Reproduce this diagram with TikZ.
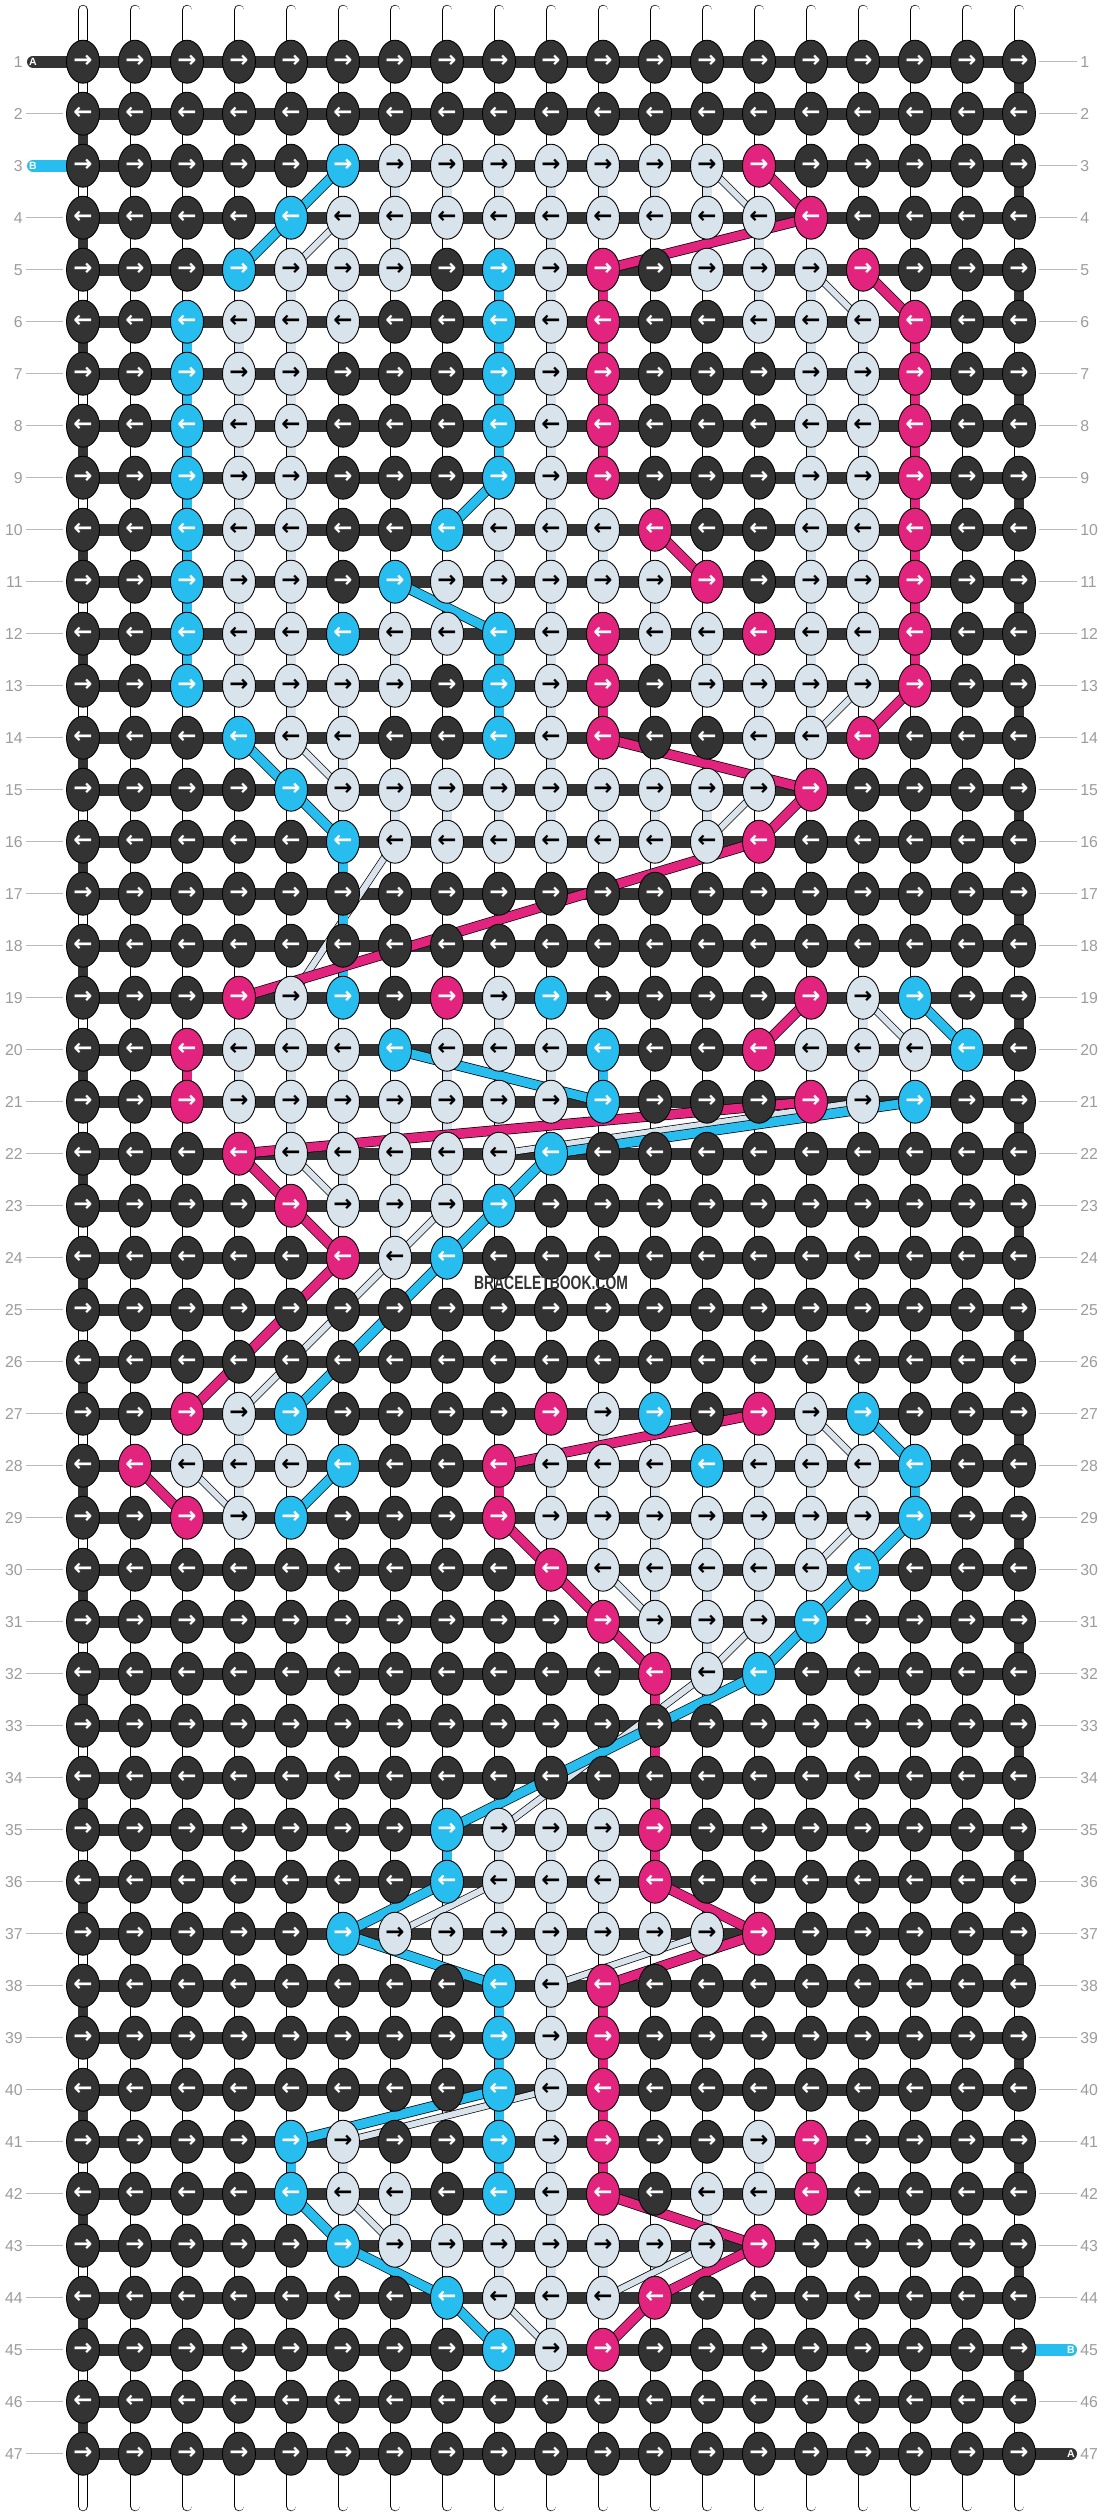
\documentclass[tikz,border=0pt]{standalone}
\usepackage{fontspec}
\usetikzlibrary{shapes.geometric}
\newfontfamily\arrowfont{DejaVu Sans}
\newfontfamily\labelfont{Liberation Sans}
\newfontfamily\markfont{Liberation Sans Bold}[FakeStretch=0.72]

\definecolor{cD}{HTML}{333333}
\definecolor{cB}{HTML}{27BDEE}
\definecolor{cP}{HTML}{E2247F}
\definecolor{cL}{HTML}{D9E3EC}
\colorlet{aD}{white}
\colorlet{aB}{white}
\colorlet{aP}{white}
\colorlet{aL}{black}
\definecolor{rowgray}{HTML}{9C9C9C}

\pgfdeclarelayer{background}
\pgfdeclarelayer{strings}
\pgfdeclarelayer{bars}
\pgfdeclarelayer{threads}
\pgfsetlayers{background,strings,bars,threads,main}

\tikzset{
  knot/.style={ellipse, draw=black, line width=0.5pt, fill=c#1, text=a#1,
    minimum width=0.66cm, minimum height=0.86cm, inner sep=0pt,
    font=\arrowfont\bfseries\fontsize{13}{13}\selectfont},
  vstring/.style={draw=black, line width=0.4pt, double=white, double distance=0.18cm, line cap=round},
  thr/.style={draw=black, line width=0.4pt, double=c#1, double distance=0.18cm},
  lthr/.style={draw=black, line width=0.4pt, double=cL, double distance=0.12cm},
  hbar/.style={draw=cD, line width=0.24cm},
  edgeturn/.style={draw=cD, line width=0.2cm},
  tailthr/.style={draw=#1, line width=0.24cm, line cap=round},
  taillabel/.style={text=white, inner sep=0pt, font=\labelfont\bfseries\fontsize{6}{6}\selectfont},
  rowlabel/.style={text=rowgray, inner sep=0pt, font=\labelfont\fontsize{9}{9}\selectfont},
  rowtick/.style={draw=rowgray!70, line width=0.6pt, shorten <=0.06cm, shorten >=0.06cm},
}

\begin{document}
\begin{tikzpicture}[x=0.02cm, y=-0.02cm]
\useasboundingbox (0,0) rectangle (1104,2516);
\begin{pgfonlayer}{background}
  \fill[white] (0,0) rectangle (1104,2516);
\end{pgfonlayer}

\foreach \r in {1,...,47}{\foreach \c in {1,...,19}{\expandafter\xdef\csname kc-\r-\c\endcsname{D}}}
\foreach \r/\cols in {
  3/{D,D,D,D,D,B,L,L,L,L,L,L,L,P,D,D,D,D,D},
  4/{D,D,D,D,B,L,L,L,L,L,L,L,L,L,P,D,D,D,D},
  5/{D,D,D,B,L,L,L,D,B,L,P,D,L,L,L,P,D,D,D},
  6/{D,D,B,L,L,L,D,D,B,L,P,D,D,L,L,L,P,D,D},
  7/{D,D,B,L,L,D,D,D,B,L,P,D,D,D,L,L,P,D,D},
  8/{D,D,B,L,L,D,D,D,B,L,P,D,D,D,L,L,P,D,D},
  9/{D,D,B,L,L,D,D,D,B,L,P,D,D,D,L,L,P,D,D},
  10/{D,D,B,L,L,D,D,B,L,L,L,P,D,D,L,L,P,D,D},
  11/{D,D,B,L,L,D,B,L,L,L,L,L,P,D,L,L,P,D,D},
  12/{D,D,B,L,L,B,L,L,B,L,P,L,L,P,L,L,P,D,D},
  13/{D,D,B,L,L,L,L,D,B,L,P,D,L,L,L,L,P,D,D},
  14/{D,D,D,B,L,L,D,D,B,L,P,D,D,L,L,P,D,D,D},
  15/{D,D,D,D,B,L,L,L,L,L,L,L,L,L,P,D,D,D,D},
  16/{D,D,D,D,D,B,L,L,L,L,L,L,L,P,D,D,D,D,D},
  19/{D,D,D,P,L,B,D,P,L,B,D,D,D,D,P,L,B,D,D},
  20/{D,D,P,L,L,L,B,L,L,L,B,D,D,P,L,L,L,B,D},
  21/{D,D,P,L,L,L,L,L,L,L,B,D,D,D,P,L,B,D,D},
  22/{D,D,D,P,L,L,L,L,L,B,D,D,D,D,D,D,D,D,D},
  23/{D,D,D,D,P,L,L,L,B,D,D,D,D,D,D,D,D,D,D},
  24/{D,D,D,D,D,P,L,B,D,D,D,D,D,D,D,D,D,D,D},
  27/{D,D,P,L,B,D,D,D,D,P,L,B,D,P,L,B,D,D,D},
  28/{D,P,L,L,L,B,D,D,P,L,L,L,B,L,L,L,B,D,D},
  29/{D,D,P,L,B,D,D,D,P,L,L,L,L,L,L,L,B,D,D},
  30/{D,D,D,D,D,D,D,D,D,P,L,L,L,L,L,B,D,D,D},
  31/{D,D,D,D,D,D,D,D,D,D,P,L,L,L,B,D,D,D,D},
  32/{D,D,D,D,D,D,D,D,D,D,D,P,L,B,D,D,D,D,D},
  35/{D,D,D,D,D,D,D,B,L,L,L,P,D,D,D,D,D,D,D},
  36/{D,D,D,D,D,D,D,B,L,L,L,P,D,D,D,D,D,D,D},
  37/{D,D,D,D,D,B,L,L,L,L,L,L,L,P,D,D,D,D,D},
  38/{D,D,D,D,D,D,D,D,B,L,P,D,D,D,D,D,D,D,D},
  39/{D,D,D,D,D,D,D,D,B,L,P,D,D,D,D,D,D,D,D},
  40/{D,D,D,D,D,D,D,D,B,L,P,D,D,D,D,D,D,D,D},
  41/{D,D,D,D,B,L,D,D,B,L,P,D,D,L,P,D,D,D,D},
  42/{D,D,D,D,B,L,L,D,B,L,P,D,L,L,P,D,D,D,D},
  43/{D,D,D,D,D,B,L,L,L,L,L,L,L,P,D,D,D,D,D},
  44/{D,D,D,D,D,D,D,B,L,L,L,P,D,D,D,D,D,D,D},
  45/{D,D,D,D,D,D,D,D,B,L,P,D,D,D,D,D,D,D,D}}{
  \foreach \k [count=\c] in \cols {\expandafter\xdef\csname kc-\r-\c\endcsname{\k}}
}

\foreach \r in {1,...,47}{
  \foreach \c in {1,...,19}{
    \edef\k{\csname kc-\r-\c\endcsname}
    \node[knot=\k] (k-\r-\c) at ({83+52*(\c-1)},{61.7+52*(\r-1)}) {\ifodd\r →\else ←\fi};
  }
}

\begin{pgfonlayer}{strings}
\foreach \c in {1,...,19}{
  \coordinate (top-\c) at ({83+52*(\c-1)},10);
  \coordinate (bot-\c) at ({83+52*(\c-1)},2506);
  \draw[vstring] (top-\c) -- (bot-\c);
}
\end{pgfonlayer}

\begin{pgfonlayer}{bars}
\foreach \r in {1,...,47}
  \draw[hbar] (k-\r-1.center) -- (k-\r-19.center);
\foreach \r in {1,3,...,45}{
  \pgfmathtruncatemacro\rn{\r+1}
  \draw[edgeturn] (k-\r-19.center) -- (k-\rn-19.center);
}
\foreach \r in {2,4,...,46}{
  \pgfmathtruncatemacro\rn{\r+1}
  \draw[edgeturn] (k-\r-1.center) -- (k-\rn-1.center);
}
\coordinate (tail-a) at (33,61.7);
\coordinate (tail-b) at (33,165.7);
\coordinate (end-b) at (1071,2349.7);
\coordinate (end-a) at (1071,2453.7);
\draw[tailthr=cD] (tail-a) -- (k-1-1.center);
\draw[tailthr=cB] (tail-b) -- (k-3-1.center);
\draw[tailthr=cB] (k-45-19.center) -- (end-b);
\draw[tailthr=cD] (k-47-19.center) -- (end-a);
\end{pgfonlayer}
\node[taillabel] (tl-a) at (tail-a) {A};
\node[taillabel] (tl-b) at (tail-b) {B};
\node[taillabel] (el-b) at (end-b) {B};
\node[taillabel] (el-a) at (end-a) {A};

\begin{pgfonlayer}{threads}
\foreach \r in {1,...,46}{
  \pgfmathtruncatemacro\rn{\r+1}
  \foreach \c in {1,...,19}{
    \edef\ka{\csname kc-\r-\c\endcsname}
    \edef\kb{\csname kc-\rn-\c\endcsname}
    \ifx\ka\kb\if D\ka\else\draw[thr=\ka] (k-\r-\c.center) -- (k-\rn-\c.center);\fi\fi
  }
}
\foreach \a/\b in {3-13/4-14, 4-6/5-5, 5-15/6-16, 13-16/14-15, 14-5/15-6, 15-14/16-13,
    16-7/19-5, 19-16/20-17, 21-16/22-9, 22-5/23-6, 23-8/24-7, 24-7/27-4, 27-15/28-16,
    28-3/29-4, 29-16/30-15, 30-11/31-12, 31-14/32-13, 32-13/35-9, 36-9/37-7, 37-13/38-10,
    40-10/41-6, 42-6/43-7, 43-13/44-11, 44-9/45-10}
  \draw[lthr] (k-\a.center) -- (k-\b.center);
\foreach \a/\b in {3-6/4-5, 4-5/5-4, 9-9/10-8, 11-7/12-9, 14-4/15-5, 15-5/16-6, 16-6/19-6,
    19-17/20-18, 20-7/21-11, 21-17/22-10, 22-10/23-9, 23-9/24-8, 24-8/27-5, 27-16/28-17,
    28-6/29-5, 29-17/30-16, 30-16/31-15, 31-15/32-14, 32-14/35-8, 36-8/37-6, 37-6/38-9,
    40-9/41-5, 42-5/43-6, 43-6/44-8, 44-8/45-9}
  \draw[thr=B] (k-\a.center) -- (k-\b.center);
\foreach \a/\b in {3-14/4-15, 4-15/5-11, 5-16/6-17, 10-12/11-13, 13-17/14-16, 14-11/15-15,
    15-15/16-14, 16-14/19-4, 19-15/20-14, 21-15/22-4, 22-4/23-5, 23-5/24-6, 24-6/27-3,
    27-14/28-9, 28-2/29-3, 29-9/30-10, 30-10/31-11, 31-11/32-12, 32-12/35-12, 36-12/37-14,
    37-14/38-11, 42-11/43-14, 43-14/44-12, 44-12/45-11}
  \draw[thr=P] (k-\a.center) -- (k-\b.center);
\end{pgfonlayer}

\foreach \r in {1,...,47}{
  \node[rowlabel, anchor=east] (ll-\r) at (23,{61.7+52*(\r-1)}) {\r};
  \node[rowlabel, anchor=west] (rl-\r) at (1080,{61.7+52*(\r-1)}) {\r};
  \ifnum\r=1 \else\ifnum\r=3 \else\draw[rowtick] (ll-\r) -- (k-\r-1);\fi\fi
  \ifnum\r=45 \else\ifnum\r=47 \else\draw[rowtick] (k-\r-19) -- (rl-\r);\fi\fi
}

\node[text=cD, inner sep=0pt, font=\markfont\fontsize{11}{11}\selectfont] (mark) at (551,1283) {BRACELETBOOK.COM};
\end{tikzpicture}
\end{document}
